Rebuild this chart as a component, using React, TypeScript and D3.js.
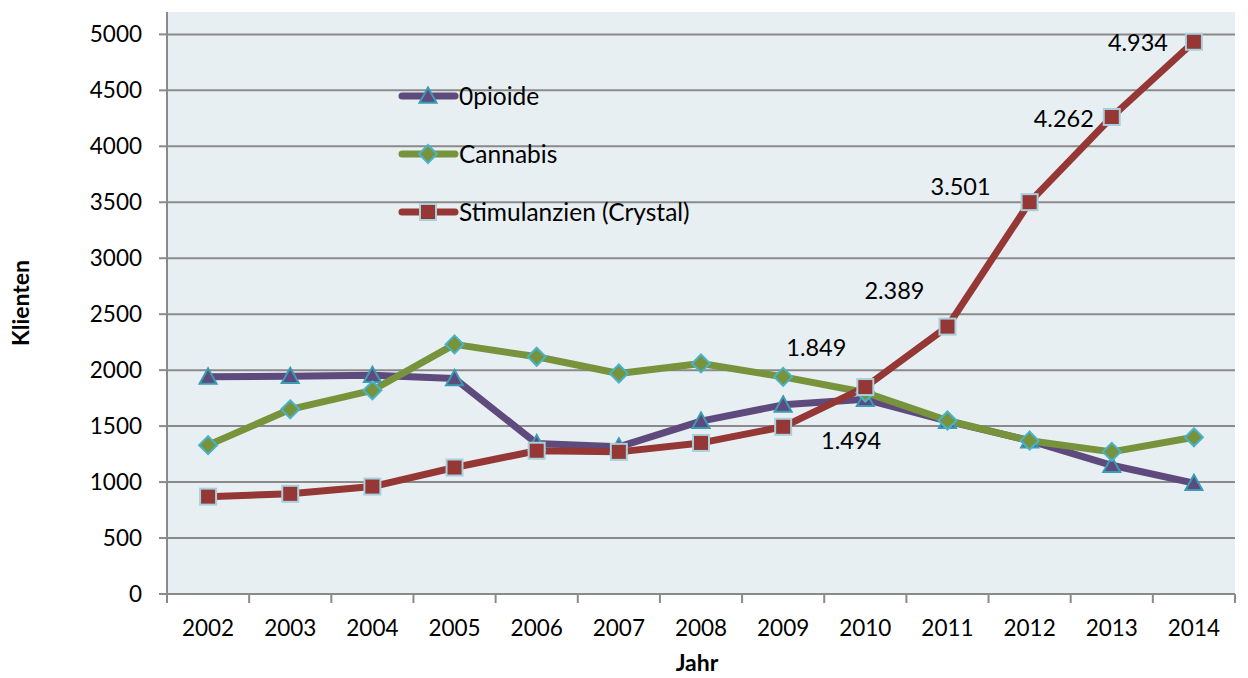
import * as d3 from "d3";

const years = ["2002", "2003", "2004", "2005", "2006", "2007", "2008", "2009", "2010", "2011", "2012", "2013", "2014"];
const opioide = [1940, 1945, 1955, 1925, 1345, 1315, 1545, 1690, 1740, 1545, 1370, 1150, 990];
const cannabis = [1330, 1650, 1820, 2230, 2120, 1970, 2060, 1940, 1800, 1550, 1370, 1270, 1400];
const stimulanzien = [870, 895, 960, 1130, 1280, 1270, 1350, 1494, 1849, 2389, 3501, 4262, 4934];
const labelYears = ["2009", "2010", "2011", "2012", "2013", "2014"];
const labelOffsets = [
  [68, 14], [-49, -39], [-53, -36], [-69, -15], [-48, 2], [-56, 1],
];
const yTicks = [0, 500, 1000, 1500, 2000, 2500, 3000, 3500, 4000, 4500, 5000];

const W = 1248;
const H = 678;
const M = { top: 12, right: 13, bottom: 84, left: 167 };
const FONT = "Lato, 'Open Sans', sans-serif";

type Series = { name: string; values: number[]; color: string; marker: "tri" | "dia" | "sq" };
const series: Series[] = [
  { name: "0pioide", values: opioide, color: "#5f4a7d", marker: "tri" },
  { name: "Cannabis", values: cannabis, color: "#77933c", marker: "dia" },
  { name: "Stimulanzien (Crystal)", values: stimulanzien, color: "#953735", marker: "sq" },
];

function Marker({ kind, x, y, color }: { kind: string; x: number; y: number; color: string }) {
  if (kind === "tri") {
    const s = 8.5;
    return (
      <path
        d={`M${x},${y - s} L${x + s},${y + s * 0.8} L${x - s},${y + s * 0.8} Z`}
        fill={color}
        stroke="#3a9bb5"
        strokeWidth={2}
      />
    );
  }
  if (kind === "dia") {
    const s = 9;
    return (
      <path
        d={`M${x},${y - s} L${x + s},${y} L${x},${y + s} L${x - s},${y} Z`}
        fill={color}
        stroke="#48b3cc"
        strokeWidth={2}
      />
    );
  }
  return (
    <rect x={x - 8} y={y - 8} width={16} height={16} fill={color} stroke="#a8cfdc" strokeWidth={2} />
  );
}

export default function App() {
  const x = d3.scaleBand().domain(years).range([M.left, W - M.right]);
  const y = d3.scaleLinear().domain([0, 5200]).range([H - M.bottom, M.top]);
  const cx = (yr: string) => (x(yr) as number) + x.bandwidth() / 2;
  const line = d3
    .line<number>()
    .x((_, i) => cx(years[i]))
    .y((d) => y(d));

  const x0 = M.left;
  const x1 = W - M.right;
  const yb = y(0);

  return (
    <svg
      width={W}
      height={H}
      style={{ position: "absolute", left: 0, top: 0, background: "#fff", fontFamily: FONT }}
    >
      <rect x={x0} y={M.top} width={x1 - x0} height={yb - M.top} fill="#e8eff3" />
      {yTicks.map((t) => (
        <g key={t}>
          {t > 0 && <line x1={x0} x2={x1} y1={y(t)} y2={y(t)} stroke="#8a8a8a" strokeWidth={2} />}
          <line x1={x0 - 8} x2={x0} y1={y(t)} y2={y(t)} stroke="#8a8a8a" strokeWidth={2} />
          <text x={x0 - 25} y={y(t)} dy="0.35em" textAnchor="end" fontSize={22.5} fill="#000">
            {t}
          </text>
        </g>
      ))}
      <line x1={x0} x2={x0} y1={M.top} y2={yb} stroke="#8a8a8a" strokeWidth={2} />
      <line x1={x0} x2={x1} y1={yb} y2={yb} stroke="#8a8a8a" strokeWidth={2} />
      {years.map((yr) => (
        <g key={yr}>
          <line x1={x(yr)!} x2={x(yr)!} y1={yb} y2={yb + 9} stroke="#8a8a8a" strokeWidth={2} />
          <text x={cx(yr)} y={yb + 42} textAnchor="middle" fontSize={22.5} fill="#000">
            {yr}
          </text>
        </g>
      ))}
      <line x1={x1} x2={x1} y1={yb} y2={yb + 9} stroke="#8a8a8a" strokeWidth={2} />

      <text x={697} y={671} textAnchor="middle" fontSize={23} fontWeight="bold">
        Jahr
      </text>
      <text
        transform={`translate(29,${(M.top + yb) / 2}) rotate(-90)`}
        textAnchor="middle"
        fontSize={23}
        fontWeight="bold"
      >
        Klienten
      </text>

      {series.map((s) => (
        <path
          key={s.name}
          d={line(s.values) as string}
          fill="none"
          stroke={s.color}
          strokeWidth={7}
          strokeLinejoin="round"
          strokeLinecap="round"
        />
      ))}
      {series.map((s) =>
        s.values.map((v, i) => (
          <Marker key={s.name + i} kind={s.marker} x={cx(years[i])} y={y(v)} color={s.color} />
        ))
      )}

      {labelYears.map((yr, i) => {
        const idx = years.indexOf(yr);
        const v = stimulanzien[idx];
        return (
          <text
            key={yr}
            x={cx(yr) + labelOffsets[i][0]}
            y={y(v) + labelOffsets[i][1]}
            dy="0.35em"
            textAnchor="middle"
            fontSize={23.5}
            fill="#000"
          >
            {d3.format(",.0f")(v).replace(",", ".")}
          </text>
        );
      })}

      {series.map((s, i) => {
        const ly = 96 + i * 58;
        return (
          <g key={s.name}>
            <line x1={402} x2={455} y1={ly} y2={ly} stroke={s.color} strokeWidth={7} strokeLinecap="round" />
            <Marker kind={s.marker} x={428} y={ly} color={s.color} />
            <text x={459} y={ly} dy="0.35em" fontSize={24.5} fill="#000">
              {s.name}
            </text>
          </g>
        );
      })}
    </svg>
  );
}
